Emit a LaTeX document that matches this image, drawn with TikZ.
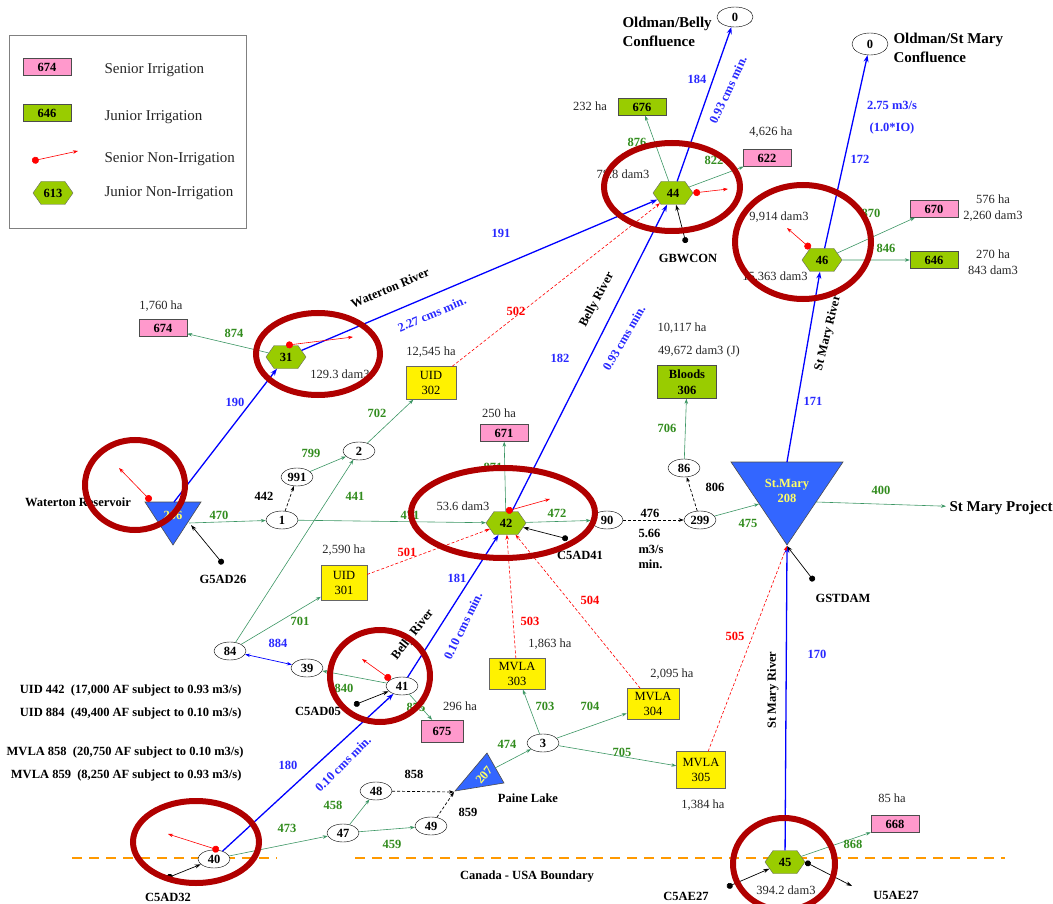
\documentclass[tikz,border=0pt]{standalone}
\usepackage{fontspec}
\setmainfont{Liberation Serif}
\usetikzlibrary{shapes.geometric,shapes.symbols,arrows.meta}

\definecolor{flowgreen}{RGB}{60,150,100}
\definecolor{lblgreen}{RGB}{50,140,30}
\definecolor{lblblue}{RGB}{40,40,255}
\definecolor{senpink}{RGB}{255,153,204}
\definecolor{jungreen}{RGB}{153,204,0}
\definecolor{lakeblue}{RGB}{51,102,255}
\definecolor{lakeyellow}{RGB}{255,255,102}
\definecolor{circred}{RGB}{176,0,0}
\definecolor{bndorange}{RGB}{255,153,0}

\newcommand{\mapfont}{\fontsize{12.5}{15.5}\selectfont}
\newcommand{\capfont}{\fontsize{15}{19}\selectfont}

\tikzset{
  junior/.style={shape=signal, signal to=east and west, signal pointer angle=110,
    fill=jungreen, draw=black!60, minimum width=40, minimum height=23, inner sep=0pt,
    font=\mapfont\bfseries},
  senirr/.style={rectangle, fill=senpink, draw=black!70, minimum width=48,
    minimum height=17, inner sep=0pt, font=\mapfont\bfseries},
  junirr/.style={rectangle, fill=jungreen, draw=black!70, minimum width=48,
    minimum height=17, inner sep=0pt, font=\mapfont\bfseries},
  cnode/.style={ellipse, draw, fill=white, minimum width=32, minimum height=18,
    inner sep=0pt, font=\mapfont\bfseries},
  ditch/.style={rectangle, fill=yellow, draw=black!60, minimum width=50,
    minimum height=33, inner sep=1pt, align=center, font=\mapfont},
  lake/.style={fill=lakeblue, draw=black!70, line width=0.6pt},
  lakelbl/.style={text=lakeyellow, font=\mapfont\bfseries, align=center},
  river/.style={draw=blue, line width=1.3pt, -{Stealth[length=7pt,width=5pt]}},
  flow/.style={draw=flowgreen, line width=0.6pt, -{Stealth[length=5pt,width=3.5pt]}},
  link/.style={draw=black, line width=0.7pt, dash pattern=on 3pt off 2pt,
    -{Stealth[length=5pt,width=3.5pt]}},
  demand/.style={draw=red, line width=0.6pt, dash pattern=on 3pt off 2pt,
    -{Stealth[length=5pt,width=3.5pt]}},
  gauge/.style={draw=black, line width=0.7pt,
    arrows={Circle[length=6pt]-Stealth[length=6pt,width=4pt]}},
  senior/.style={draw=red, line width=0.6pt,
    arrows={Circle[length=7pt]-Stealth[length=5pt,width=3.5pt]}},
  hilite/.style={draw=circred, line width=6pt},
  boundary/.style={draw=bndorange, line width=2.2pt, dash pattern=on 10pt off 7pt},
  flowlbl/.style={text=lblgreen, font=\mapfont\bfseries},
  rivlbl/.style={text=lblblue, font=\mapfont\bfseries},
  demlbl/.style={text=red, font=\mapfont\bfseries},
  blklbl/.style={font=\mapfont\bfseries},
  note/.style={font=\mapfont, text=black!85, align=center},
  legtxt/.style={anchor=west, font=\capfont, text=black!85}
}

\begin{document}
\begin{tikzpicture}[x=1pt,y=-1pt]
  \useasboundingbox (0,0) rectangle (1053,904);

  \draw[black!50] (9,35) rectangle (246,228);
  \node (lg674) at (47,67) [senirr] {674};
  \node (lg646) at (47,113) [junirr] {646};
  \coordinate (lgdot) at (32,161);
  \coordinate (lgtip) at (78,151);
  \draw[senior] (lgdot) -- (lgtip);
  \node (lg613) at (53,193) [junior] {613};
  \node (lgt1) at (101,70) [legtxt] {Senior Irrigation};
  \node (lgt2) at (101,117) [legtxt] {Junior Irrigation};
  \node (lgt3) at (101,159) [legtxt] {Senior Non-Irrigation};
  \node (lgt4) at (101,193) [legtxt] {Junior Non-Irrigation};

  \coordinate (bd1) at (72,858);
  \coordinate (bd2) at (277,858);
  \coordinate (bd3) at (355,858);
  \coordinate (bd4) at (1005,858);
  \draw[boundary] (bd1) -- (bd2);
  \draw[boundary] (bd3) -- (bd4);
  \node (bndtxt) at (527,877) [blklbl] {Canada - USA Boundary};

  \node (ob0) at (735,17) [cnode, minimum width=36, minimum height=20] {0};
  \node (osm0) at (870,44) [cnode, minimum width=36, minimum height=22] {0};
  \node (obtxt) at (619,32) [anchor=west, align=left, font=\capfont\bfseries] {Oldman/Belly\\Confluence};
  \node (osmtxt) at (890,48) [anchor=west, align=left, font=\capfont\bfseries] {Oldman/St Mary\\Confluence};

  \node (n44) at (673,193) [junior] {44};
  \node (n676) at (642,107) [junirr] {676};
  \node (n622) at (767,158) [senirr] {622};
  \node (n46) at (822,260) [junior] {46};
  \node (n670) at (934,209) [senirr] {670};
  \node (n646) at (934,260) [junirr] {646};
  \node (n31) at (286,357) [junior] {31};
  \node (n674) at (163,328) [senirr] {674};
  \node (n42) at (506,523) [junior] {42};
  \node (n671) at (504,433) [senirr] {671};
  \node (n675) at (442,731) [senirr, minimum width=42, minimum height=22] {675};
  \node (n45) at (785,862) [junior] {45};
  \node (n668) at (895,824) [senirr] {668};

  \node (n1) at (282,520) [cnode] {1};
  \node (n991) at (297,477) [cnode] {991};
  \node (n2) at (359,451) [cnode] {2};
  \node (n84) at (230,651) [cnode] {84};
  \node (n39) at (307,668) [cnode] {39};
  \node (n41) at (402,686) [cnode] {41};
  \node (n40) at (214,859) [cnode] {40};
  \node (n47) at (343,833) [cnode] {47};
  \node (n48) at (376,791) [cnode] {48};
  \node (n49) at (431,826) [cnode] {49};
  \node (n3) at (543,743) [cnode] {3};
  \node (n90) at (607,520) [cnode] {90};
  \node (n299) at (700,520) [cnode] {299};
  \node (n86) at (684,468) [cnode] {86};

  \node (uid302) at (431,383) [ditch] {UID\\302};
  \node (uid301) at (344,583) [ditch, minimum width=46, minimum height=35] {UID\\301};
  \node (mv303) at (517,674) [ditch, minimum width=56, minimum height=31] {MVLA\\303};
  \node (mv304) at (653,704) [ditch, minimum width=52, minimum height=31] {MVLA\\304};
  \node (mv305) at (701,770) [ditch, minimum width=49, minimum height=37] {MVLA\\305};
  \node (bloods) at (687,382) [junirr, minimum width=59, minimum height=33, align=center] {Bloods\\306};

  \filldraw[lake] (145,502) -- (201,502) -- (173,545) -- cycle;
  \node (wres) at (173,515) [lakelbl] {206};
  \coordinate (wr-top) at (174,502);
  \coordinate (wr-tl) at (151,501);
  \coordinate (wr-r) at (189,523);
  \coordinate (wr-g) at (191,525);
  \node (wrtxt) at (78,502) [blklbl] {Waterton Reservoir};

  \filldraw[lake] (731,462) -- (843,462) -- (787,545) -- cycle;
  \node (stmary) at (787,491) [lakelbl] {St.Mary\\208};
  \coordinate (sm-top) at (787,462);
  \coordinate (sm-l) at (759,504);
  \coordinate (sm-r) at (816,502);
  \coordinate (sm-bot) at (787,546);
  \node (smp) at (946,508) [anchor=west, font=\capfont\bfseries] {St Mary Project};

  \filldraw[lake] (455,791) -- (487,753) -- (504,783) -- cycle;
  \node (paine) at (484,775) [lakelbl, rotate=50] {207};
  \coordinate (pl-tip) at (454,792);
  \coordinate (pl-r) at (495,768);
  \node (pltxt) at (528,798) [blklbl] {Paine Lake};

  \draw[river] (wr-top) -- (n31);
  \draw[river] (n31) -- (n44);
  \draw[river] (n44) -- (ob0);
  \draw[river] (n40) -- (n41);
  \draw[river] (n41) -- (n42);
  \draw[river] (n42) -- (n44);
  \draw[river] (n45) -- (sm-bot);
  \draw[river] (sm-top) -- (n46);
  \draw[river] (n46) -- (osm0);
  \draw[river, line width=0.7pt, arrows={Stealth[length=5pt,width=3.5pt]-Stealth[length=5pt,width=3.5pt]}] (n39) -- (n84);

  \draw[flow] (n44) -- (n676);
  \draw[flow] (n44) -- (n622);
  \draw[flow] (n46) -- (n670);
  \draw[flow] (n46) -- (n646);
  \draw[flow] (n31) -- (n674);
  \draw[flow] (wr-r) -- (n1);
  \draw[flow] (n1) -- (n42);
  \draw[flow] (n991) -- (n2);
  \draw[flow] (n84) -- (n2);
  \draw[flow] (n84) -- (uid301);
  \draw[flow] (n2) -- (uid302);
  \draw[flow] (n41) -- (n39);
  \draw[flow] (n41) -- (n675);
  \draw[flow] (n42) -- (n671);
  \draw[flow] (n42) -- (n90);
  \draw[flow] (n86) -- (bloods);
  \draw[flow] (n299) -- (sm-l);
  \draw[flow] (sm-r) -- (smp);
  \draw[flow] (n40) -- (n47);
  \draw[flow] (n47) -- (n48);
  \draw[flow] (n47) -- (n49);
  \draw[flow] (pl-r) -- (n3);
  \draw[flow] (n3) -- (mv303);
  \draw[flow] (n3) -- (mv304);
  \draw[flow] (n3) -- (mv305);
  \draw[flow] (n45) -- (n668);

  \draw[link] (n1) -- (n991);
  \draw[link] (n90) -- (n299);
  \draw[link] (n299) -- (n86);
  \draw[link] (n48) -- (pl-tip);
  \draw[link] (n49) -- (pl-tip);

  \draw[demand] (uid302) -- (n44);
  \draw[demand] (uid301) -- (n42);
  \draw[demand] (mv303) -- (n42);
  \draw[demand] (mv304) -- (n42);
  \draw[demand] (mv305) -- (sm-bot);

  \coordinate (gG5AD26) at (223,564);
  \coordinate (gGBWCON) at (686,243);
  \coordinate (gC5AD41) at (568,539);
  \coordinate (gGSTDAM) at (814,581);
  \coordinate (gC5AD05) at (354,705);
  \coordinate (gC5AD32) at (167,878);
  \coordinate (gC5AE27) at (727,887);
  \coordinate (gU5AE27) at (852,886);
  \draw[gauge] (gG5AD26) -- (wr-g);
  \draw[gauge] (gGBWCON) -- (n44);
  \draw[gauge] (gC5AD41) -- (n42);
  \draw[gauge] (gGSTDAM) -- (sm-bot);
  \draw[gauge] (gC5AD05) -- (n41);
  \draw[gauge] (gC5AD32) -- (n40);
  \draw[gauge] (gC5AE27) -- (n45);
  \draw[gauge] (n45.east) -- (gU5AE27);
  \node (lG5AD26) at (223,579) [blklbl] {G5AD26};
  \node (lGBWCON) at (688,258) [blklbl] {GBWCON};
  \node (lC5AD41) at (580,555) [blklbl] {C5AD41};
  \node (lGSTDAM) at (843,598) [blklbl] {GSTDAM};
  \node (lC5AD05) at (318,711) [blklbl] {C5AD05};
  \node (lC5AD32) at (168,897) [blklbl] {C5AD32};
  \node (lC5AE27) at (686,896) [blklbl] {C5AE27};
  \node (lU5AE27) at (896,895) [blklbl] {U5AE27};

  \coordinate (s44) at (728,189);
  \coordinate (s46) at (787,228);
  \coordinate (s31) at (353,337);
  \coordinate (swr) at (119,468);
  \coordinate (s42) at (550,499);
  \coordinate (s41) at (362,659);
  \coordinate (s40) at (168,834);
  \draw[senior] (n44.east) -- (s44);
  \draw[senior] (n46.135) -- (s46);
  \draw[senior] (n31.north) -- (s31);
  \draw[senior] (wr-tl) -- (swr);
  \draw[senior] (n42.north) -- (s42);
  \draw[senior] (n41.150) -- (s41);
  \draw[senior] (n40.60) -- (s40);

  \node (f470) at (219,515) [flowlbl] {470};
  \node (f471) at (410,515) [flowlbl] {471};
  \node (f799) at (311,453) [flowlbl] {799};
  \node (f441) at (355,496) [flowlbl] {441};
  \node (f701) at (300,621) [flowlbl] {701};
  \node (f702) at (377,413) [flowlbl] {702};
  \node (f840) at (344,688) [flowlbl] {840};
  \node (f875) at (416,707) [flowlbl] {875};
  \node (f871) at (493,467) [flowlbl] {871};
  \node (f472) at (557,513) [flowlbl] {472};
  \node (f706) at (667,428) [flowlbl] {706};
  \node (f475) at (748,523) [flowlbl] {475};
  \node (f400) at (881,490) [flowlbl] {400};
  \node (f473) at (287,828) [flowlbl] {473};
  \node (f458) at (333,805) [flowlbl] {458};
  \node (f459) at (392,844) [flowlbl] {459};
  \node (f474) at (507,744) [flowlbl] {474};
  \node (f703) at (545,706) [flowlbl] {703};
  \node (f704) at (590,706) [flowlbl] {704};
  \node (f705) at (622,752) [flowlbl] {705};
  \node (f868) at (853,844) [flowlbl] {868};
  \node (f876) at (637,142) [flowlbl] {876};
  \node (f822) at (714,160) [flowlbl] {822};
  \node (f870) at (871,213) [flowlbl] {870};
  \node (f846) at (886,248) [flowlbl] {846};
  \node (f874) at (234,333) [flowlbl] {874};

  \node (r190) at (235,402) [rivlbl] {190};
  \node (r191) at (501,233) [rivlbl] {191};
  \node (r182) at (560,358) [rivlbl] {182};
  \node (r184) at (697,79) [rivlbl] {184};
  \node (r180) at (288,765) [rivlbl] {180};
  \node (r181) at (457,578) [rivlbl] {181};
  \node (r170) at (817,654) [rivlbl] {170};
  \node (r171) at (813,401) [rivlbl] {171};
  \node (r172) at (860,159) [rivlbl] {172};
  \node (r884) at (278,643) [rivlbl] {884};
  \node (rio1) at (892,105) [rivlbl] {2.75 m3/s};
  \node (rio2) at (892,128) [rivlbl] {(1.0*IO)};
  \node (rm227) at (432,314) [rivlbl, rotate=23] {2.27 cms min.};
  \node (rm093a) at (624,338) [rivlbl, rotate=60] {0.93 cms min.};
  \node (rm093b) at (728,90) [rivlbl, rotate=65] {0.93 cms min.};
  \node (rm010a) at (463,626) [rivlbl, rotate=64] {0.10 cms min.};
  \node (rm010b) at (343,764) [rivlbl, rotate=45] {0.10 cms min.};

  \node (rn1) at (390,288) [blklbl, rotate=23] {Waterton River};
  \node (rn2) at (597,300) [blklbl, rotate=62] {Belly River};
  \node (rn3) at (413,635) [blklbl, rotate=52] {Belly River};
  \node (rn4) at (828,333) [blklbl, rotate=76] {St Mary River};
  \node (rn5) at (773,690) [blklbl, rotate=90] {St Mary River};

  \node (d502) at (516,311) [demlbl] {502};
  \node (d501) at (407,552) [demlbl] {501};
  \node (d503) at (530,621) [demlbl] {503};
  \node (d504) at (590,600) [demlbl] {504};
  \node (d505) at (735,636) [demlbl] {505};

  \node (k442) at (264,496) [blklbl] {442};
  \node (k476) at (650,513) [blklbl] {476};
  \node (k806) at (715,487) [blklbl] {806};
  \node (k858) at (414,774) [blklbl] {858};
  \node (k859) at (468,812) [blklbl] {859};
  \node (kmin) at (635,549) [blklbl, anchor=west, align=left] {5.66\\m3/s\\min.};

  \node (t232) at (590,106) [note] {232 ha};
  \node (t4626) at (771,132) [note] {4,626 ha};
  \node (t788) at (623,174) [note] {78.8 dam3};
  \node (t9914) at (779,217) [note] {9,914 dam3};
  \node (t15363) at (775,277) [note] {15,363 dam3};
  \node (t576) at (993,208) [note] {576 ha\\2,260 dam3};
  \node (t270) at (993,262) [note] {270 ha\\843 dam3};
  \node (t1760) at (161,306) [note] {1,760 ha};
  \node (t1293) at (340,374) [note] {129.3 dam3};
  \node (t12545) at (431,352) [note] {12,545 ha};
  \node (t2590) at (344,550) [note] {2,590 ha};
  \node (t250) at (499,413) [note] {250 ha};
  \node (t536) at (463,506) [note] {53.6 dam3};
  \node (t10117) at (682,328) [note] {10,117 ha};
  \node (t49672) at (699,351) [note] {49,672 dam3 (J)};
  \node (t1863) at (550,644) [note] {1,863 ha};
  \node (t2095) at (672,674) [note] {2,095 ha};
  \node (t296) at (460,706) [note] {296 ha};
  \node (t1384) at (703,805) [note] {1,384 ha};
  \node (t85) at (892,798) [note] {85 ha};
  \node (t3942) at (786,890) [note] {394.2 dam3};

  \node (u442) at (245,690) [blklbl, anchor=east] {UID 442\ \ (17,000 AF subject to 0.93 m3/s)};
  \node (u884) at (245,713) [blklbl, anchor=east] {UID 884\ \ (49,400 AF subject to 0.10 m3/s)};
  \node (m858) at (247,752) [blklbl, anchor=east] {MVLA 858\ \ (20,750 AF subject to 0.10 m3/s)};
  \node (m859) at (245,775) [blklbl, anchor=east] {MVLA 859\ \ (8,250 AF subject to 0.93 m3/s)};

  \draw[hilite] (672,187) ellipse [x radius=68, y radius=44];
  \draw[hilite] (803,242) ellipse [x radius=68, y radius=57];
  \draw[hilite] (318,354) ellipse [x radius=62, y radius=41];
  \draw[hilite] (135,485) ellipse [x radius=50, y radius=45];
  \draw[hilite] (503,513) ellipse [x radius=92, y radius=45];
  \draw[hilite] (380,676) ellipse [x radius=50, y radius=46];
  \draw[hilite] (196,842) ellipse [x radius=63, y radius=41];
  \draw[hilite] (784,864) ellipse [x radius=51, y radius=46];

\end{tikzpicture}
\end{document}
